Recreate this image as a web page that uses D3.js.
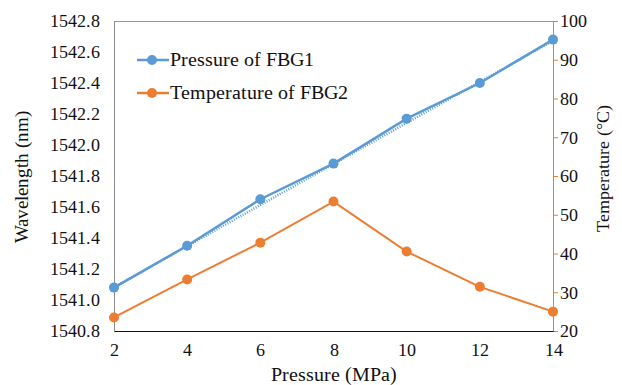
<!DOCTYPE html>
<html lang="en">
<head>
<meta charset="UTF-8">
<title>FBG</title>
<script src="https://cdn.jsdelivr.net/npm/d3@7"></script>
<style>
  @font-face {
    font-family: 'ChartSerif';
    src: local('Liberation Serif'), local('LiberationSerif'), local('LiberationSerif-Regular'),
         local('DejaVu Serif'), local('DejaVuSerif');
  }
  body { margin:0; background:#fff; }
  svg text { font-family: 'ChartSerif', 'Liberation Serif', serif; }
</style>
</head>
<body>
<div id="grafica"></div>
<script>
// data
pressure = [2, 4, 6, 8, 10, 12, 14]
wavelength = [1541.08, 1541.35, 1541.65, 1541.88, 1542.17, 1542.40, 1542.68]
temperature = [23.5, 33.3, 42.8, 53.4, 40.5, 31.4, 25.0]
xTicks = [2, 4, 6, 8, 10, 12, 14]
leftTicks = [1540.8, 1541.0, 1541.2, 1541.4, 1541.6, 1541.8, 1542.0, 1542.2, 1542.4, 1542.6, 1542.8]
rightTicks = [20, 30, 40, 50, 60, 70, 80, 90, 100]
seriesNames = ['Pressure of FBG1', 'Temperature of FBG2']

ancho_total = 622
alto_total = 385
margin = {top:21, right:69, bottom:54, left:114}
ancho = ancho_total - margin.left - margin.right
alto = alto_total - margin.top - margin.bottom

blue = '#5b9bd5'
orange = '#ed7d31'

svg = d3.select('#grafica')
  .append('svg')
  .attr('width', ancho_total)
  .attr('height', alto_total)

g = svg.append('g')
  .attr('transform', 'translate(' + margin.left + ',' + margin.top + ')')

x = d3.scaleLinear().domain([2, 14]).range([0, ancho])
yL = d3.scaleLinear().domain([1540.8, 1542.8]).range([alto, 0])
yR = d3.scaleLinear().domain([20, 100]).range([alto, 0])

// top border
g.append('line')
  .attr('x1', 0).attr('x2', ancho).attr('y1', 0.5).attr('y2', 0.5)
  .attr('stroke', orange).attr('stroke-width', 1)

function styleTicks(sel) {
  sel.attr('font-family', null).attr('font-size', 18)
  sel.selectAll('text').attr('fill', '#111')
}

// left axis
leftAxis = g.append('g')
  .call(d3.axisLeft(yL).tickValues(leftTicks).tickFormat(d3.format('.1f')).tickSize(0).tickPadding(14))
leftAxis.select('.domain').attr('stroke', '#8c8c8c')
styleTicks(leftAxis)

// right axis
rightAxis = g.append('g')
  .attr('transform', 'translate(' + ancho + ',0)')
  .call(d3.axisRight(yR).tickValues(rightTicks).tickSize(5).tickSizeOuter(0).tickPadding(2))
rightAxis.select('.domain').attr('stroke', orange)
rightAxis.selectAll('.tick line').attr('stroke', orange)
styleTicks(rightAxis)

// bottom axis
bottomAxis = g.append('g')
  .attr('transform', 'translate(0,' + alto + ')')
  .call(d3.axisBottom(x).tickValues(xTicks).tickSize(0).tickPadding(12))
bottomAxis.select('.domain').attr('stroke', '#111').attr('stroke-width', 1.2)
styleTicks(bottomAxis)

// axis titles
svg.append('text')
  .attr('transform', 'translate(28,177) rotate(-90)')
  .attr('text-anchor', 'middle')
  .attr('font-size', 19).attr('fill', '#111')
  .text('Wavelength (nm)')

svg.append('text')
  .attr('transform', 'translate(609,168) rotate(-90)')
  .attr('text-anchor', 'middle')
  .attr('font-size', 18).attr('fill', '#111')
  .text('Temperature (°C)')

svg.append('text')
  .attr('x', 334).attr('y', 381)
  .attr('text-anchor', 'middle')
  .attr('font-size', 19.5).attr('fill', '#111')
  .text('Pressure (MPa)')

// linear trendline for the wavelength series
mx = d3.mean(pressure)
my = d3.mean(wavelength)
slope = d3.sum(pressure, (p, i) => (p - mx) * (wavelength[i] - my)) / d3.sum(pressure, p => (p - mx) * (p - mx))
icpt = my - slope * mx
g.append('line')
  .attr('x1', x(2)).attr('y1', yL(icpt + slope * 2))
  .attr('x2', x(14)).attr('y2', yL(icpt + slope * 14))
  .attr('stroke', blue).attr('stroke-width', 2.5)
  .attr('stroke-dasharray', '1,1.5')
  .attr('transform', 'translate(0,1.5)')

// series lines
lineL = d3.line().x((d, i) => x(pressure[i])).y(d => yL(d))
lineR = d3.line().x((d, i) => x(pressure[i])).y(d => yR(d))

g.append('path')
  .attr('d', lineL(wavelength))
  .attr('fill', 'none').attr('stroke', blue).attr('stroke-width', 2.5)

g.append('path')
  .attr('d', lineR(temperature))
  .attr('fill', 'none').attr('stroke', orange).attr('stroke-width', 2)

g.selectAll('.pb').data(wavelength).enter().append('circle')
  .attr('cx', (d, i) => x(pressure[i])).attr('cy', d => yL(d))
  .attr('r', 5).attr('fill', blue)

g.selectAll('.po').data(temperature).enter().append('circle')
  .attr('cx', (d, i) => x(pressure[i])).attr('cy', d => yR(d))
  .attr('r', 5).attr('fill', orange)

// legend
leg = svg.append('g')
;[blue, orange].forEach((c, i) => {
  yy = 60 + i * 33
  leg.append('line').attr('x1', 137).attr('x2', 169).attr('y1', yy).attr('y2', yy)
    .attr('stroke', c).attr('stroke-width', 2.5)
  leg.append('circle').attr('cx', 152).attr('cy', yy).attr('r', 5).attr('fill', c)
  leg.append('text').attr('x', 170).attr('y', yy + 6)
    .attr('font-size', 20).attr('fill', '#111')
    .text(seriesNames[i])
})
</script>
</body>
</html>
